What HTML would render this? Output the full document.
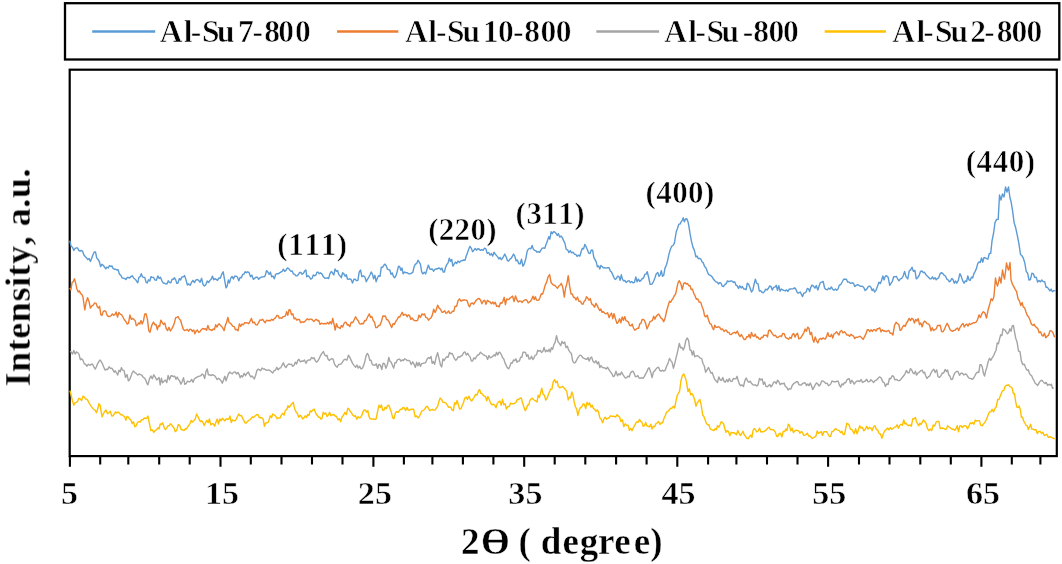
<!DOCTYPE html>
<html><head><meta charset="utf-8"><style>
html,body{margin:0;padding:0;background:#fff;}
body{width:1062px;height:564px;overflow:hidden;}
svg{display:block;}
</style></head><body>
<svg width="1062" height="564" viewBox="0 0 1062 564">
<rect x="0" y="0" width="1062" height="564" fill="#fff"/>
<rect x="65" y="3.2" width="994.3" height="56.3" fill="none" stroke="#000" stroke-width="2.3"/>
<rect x="69.7" y="69.7" width="987.1" height="386.4" fill="none" stroke="#000" stroke-width="2.2"/>
<path d="M69.9,456 L69.9,466.8 M100.2,456 L100.2,464.6 M128.3,456 L128.3,464.6 M159.2,456 L159.2,464.6 M189.7,456 L189.7,464.6 M220.5,456 L220.5,466.8 M250.8,456 L250.8,464.6 M281.5,456 L281.5,464.6 M312.0,456 L312.0,464.6 M342.5,456 L342.5,464.6 M373.4,456 L373.4,466.8 M403.9,456 L403.9,464.6 M432.4,456 L432.4,464.6 M462.9,456 L462.9,464.6 M493.4,456 L493.4,464.6 M524.2,456 L524.2,466.8 M554.7,456 L554.7,464.6 M585.3,456 L585.3,464.6 M616.1,456 L616.1,464.6 M646.6,456 L646.6,464.6 M677.3,456 L677.3,466.8 M708.1,456 L708.1,464.6 M736.4,456 L736.4,464.6 M767.0,456 L767.0,464.6 M797.5,456 L797.5,464.6 M828.1,456 L828.1,466.8 M859.0,456 L859.0,464.6 M889.5,456 L889.5,464.6 M920.3,456 L920.3,464.6 M950.8,456 L950.8,464.6 M981.4,456 L981.4,466.8 M1011.8,456 L1011.8,464.6 M1040.4,456 L1040.4,464.6" stroke="#000" stroke-width="2.1" fill="none"/>
<defs><filter id="bl" x="-5%" y="-5%" width="110%" height="110%"><feGaussianBlur stdDeviation="0.55"/></filter></defs>
<g filter="url(#bl)">
<path d="M69.7,240.7 L71.1,246.2 L72.5,247.3 L73.8,250.4 L75.0,248.6 L76.2,247.9 L77.5,247.9 L78.8,250.4 L80.0,251.0 L81.3,250.5 L82.5,251.1 L83.8,254.8 L85.1,256.5 L86.4,257.7 L87.8,259.7 L89.1,258.5 L90.4,261.4 L91.7,258.3 L92.9,255.0 L94.2,252.0 L95.5,251.9 L96.7,257.9 L98.0,259.5 L99.3,261.5 L100.6,266.6 L101.9,264.3 L103.2,265.3 L104.5,267.0 L105.8,268.9 L107.0,267.0 L108.2,268.0 L109.5,265.7 L110.8,266.5 L112.0,266.0 L113.2,268.7 L114.4,269.2 L115.6,269.2 L116.8,270.0 L118.1,269.8 L119.4,274.1 L120.8,275.2 L122.1,277.9 L123.4,278.4 L124.7,278.5 L125.9,279.6 L127.2,277.4 L128.4,277.5 L129.7,278.0 L130.9,276.5 L132.3,275.8 L133.8,278.2 L135.2,279.2 L136.6,281.2 L137.8,282.7 L138.9,277.3 L140.1,276.7 L141.3,273.7 L142.5,276.9 L143.7,277.4 L144.8,277.4 L146.0,282.1 L147.2,283.0 L148.5,279.8 L149.8,281.0 L151.0,276.7 L152.2,277.4 L153.5,277.4 L154.9,279.8 L156.3,280.3 L157.8,275.9 L159.2,278.4 L160.5,277.3 L161.8,280.6 L163.2,283.0 L164.5,283.2 L165.8,284.0 L167.1,283.7 L168.3,280.8 L169.6,282.6 L170.8,282.8 L172.1,279.3 L173.3,279.3 L174.5,277.8 L175.7,279.9 L176.8,283.4 L178.0,283.0 L179.3,278.6 L180.6,279.9 L182.0,276.9 L183.3,276.9 L184.6,275.6 L186.0,279.9 L187.4,285.0 L188.8,283.9 L190.2,285.2 L191.6,282.2 L193.0,280.3 L194.4,282.6 L195.8,280.1 L197.3,279.5 L198.7,280.3 L200.1,282.3 L201.6,278.3 L203.0,284.4 L204.4,285.9 L205.8,284.8 L207.2,281.0 L208.6,282.5 L210.0,280.3 L211.2,279.3 L212.5,276.1 L213.8,279.9 L215.0,278.6 L216.2,279.4 L217.5,280.3 L218.9,277.9 L220.3,278.2 L221.8,274.1 L223.2,271.8 L224.6,279.8 L226.0,287.8 L227.2,286.1 L228.3,280.0 L229.5,282.9 L230.7,278.4 L232.0,276.4 L233.4,278.9 L234.7,276.1 L236.1,276.2 L237.4,277.0 L238.8,280.8 L240.1,277.4 L241.4,277.7 L242.6,274.5 L243.9,274.1 L245.2,271.7 L246.4,272.7 L247.7,271.8 L249.1,272.7 L250.5,276.8 L251.9,275.1 L253.3,279.3 L254.6,278.4 L256.0,277.3 L257.3,277.2 L258.7,279.3 L260.0,277.8 L261.3,277.0 L262.6,276.9 L263.9,276.9 L265.2,275.9 L266.5,270.6 L267.8,272.0 L269.1,274.5 L270.4,272.2 L271.7,276.8 L273.0,276.0 L274.3,278.8 L275.6,274.5 L276.9,273.6 L278.2,273.8 L279.5,272.9 L280.8,272.1 L282.1,271.3 L283.4,269.2 L284.7,271.5 L286.0,270.3 L287.3,268.0 L288.5,268.4 L289.8,270.0 L291.0,271.4 L292.2,271.0 L293.4,274.0 L294.6,274.1 L295.9,275.9 L297.1,275.9 L298.4,274.6 L299.6,272.4 L300.9,272.5 L302.1,274.3 L303.4,273.3 L304.6,271.1 L305.9,270.0 L306.8,276.8 L308.1,275.7 L309.4,277.0 L310.7,279.2 L312.0,278.5 L313.3,274.9 L314.6,275.9 L315.8,275.2 L317.0,272.2 L318.1,272.2 L319.3,273.8 L320.5,272.9 L321.9,273.9 L323.2,276.5 L324.6,278.0 L325.9,278.2 L327.3,277.8 L328.6,278.6 L329.9,273.9 L331.2,271.5 L332.5,272.8 L333.8,275.0 L335.1,269.0 L336.3,271.3 L337.6,270.5 L338.8,274.6 L340.0,275.9 L341.3,277.7 L342.6,272.8 L343.9,273.9 L345.1,276.2 L346.3,274.8 L347.4,279.0 L348.6,279.2 L349.8,278.8 L351.2,279.7 L352.5,283.0 L353.9,279.2 L355.2,279.2 L356.6,280.7 L357.9,280.3 L359.2,272.1 L360.5,270.0 L361.9,276.7 L363.4,275.8 L364.9,277.0 L366.3,281.7 L367.5,279.3 L368.8,277.1 L370.0,274.8 L371.2,272.0 L372.4,274.1 L373.6,278.7 L374.9,275.3 L376.1,281.7 L377.4,278.0 L378.7,275.7 L380.0,276.5 L381.3,267.2 L382.6,267.3 L383.9,265.1 L385.1,264.1 L386.3,265.9 L387.4,269.1 L388.6,269.7 L389.8,270.0 L391.0,274.4 L392.2,272.9 L393.4,276.3 L394.6,277.8 L395.9,275.9 L397.2,271.5 L398.5,266.1 L399.7,266.7 L400.9,270.4 L402.0,268.1 L403.2,273.9 L404.4,272.0 L405.8,272.7 L407.3,272.8 L408.8,273.9 L410.2,273.9 L411.5,273.1 L412.8,272.3 L414.1,266.8 L415.4,264.1 L416.7,263.5 L418.0,260.2 L419.2,262.1 L420.4,264.2 L421.7,271.9 L422.9,273.9 L424.3,272.3 L425.7,273.9 L427.0,269.2 L428.4,265.1 L429.8,269.0 L431.0,269.3 L432.3,269.0 L433.5,271.3 L434.8,269.3 L436.0,268.8 L437.3,269.1 L438.5,268.0 L439.7,268.2 L440.9,269.7 L442.0,268.1 L443.2,272.1 L444.4,272.0 L445.6,267.2 L446.9,264.4 L448.1,262.9 L449.3,258.3 L450.5,261.3 L451.7,259.5 L452.9,266.1 L454.1,264.1 L455.4,262.1 L456.7,263.5 L458.0,261.0 L459.4,262.4 L460.9,260.9 L462.4,260.5 L463.8,260.0 L465.0,260.4 L466.2,256.2 L467.5,252.7 L468.7,249.3 L470.0,246.3 L471.3,248.3 L472.6,251.7 L473.9,250.2 L475.2,248.4 L476.5,250.2 L477.8,248.8 L479.1,249.0 L480.4,250.4 L481.7,249.6 L483.0,250.3 L484.3,248.3 L485.8,248.6 L487.2,253.4 L488.7,252.5 L490.1,255.1 L491.4,253.6 L492.7,256.1 L494.0,252.2 L495.2,254.0 L496.4,255.4 L497.7,256.9 L498.9,259.0 L500.1,257.4 L501.3,259.7 L502.4,258.4 L503.6,256.3 L504.8,254.1 L506.1,256.7 L507.4,260.5 L508.7,261.0 L509.9,259.1 L511.1,258.3 L512.3,256.5 L513.5,254.1 L514.8,256.2 L516.1,260.8 L517.4,260.0 L518.8,263.8 L520.2,263.8 L521.5,259.1 L522.9,266.2 L524.3,263.9 L525.8,258.7 L527.2,251.2 L528.4,249.0 L529.7,248.3 L530.9,248.8 L532.1,245.4 L533.3,249.1 L534.5,250.3 L535.8,250.7 L537.0,252.2 L538.3,251.6 L539.6,252.3 L540.9,250.1 L542.2,248.1 L543.5,247.9 L544.8,248.3 L546.1,244.2 L547.4,241.1 L548.7,236.6 L549.9,239.2 L551.1,231.8 L552.3,233.7 L553.5,231.7 L554.7,232.0 L556.0,233.2 L557.2,235.5 L558.4,233.7 L559.7,237.1 L561.0,236.0 L562.3,237.6 L563.6,240.6 L564.9,243.1 L566.2,249.3 L567.6,249.8 L568.9,252.6 L570.3,250.6 L571.6,252.8 L573.0,252.2 L574.4,254.2 L575.8,254.4 L577.1,256.4 L578.5,255.1 L579.9,256.1 L581.1,251.8 L582.3,248.3 L583.6,248.9 L584.8,244.4 L586.1,246.7 L587.4,249.7 L588.7,253.2 L590.0,253.6 L591.3,249.9 L592.6,250.2 L593.8,257.4 L595.0,259.6 L596.2,261.8 L597.4,266.8 L598.6,265.9 L599.8,269.0 L600.9,265.4 L602.1,266.5 L603.3,267.8 L604.8,267.8 L606.2,268.1 L607.6,267.8 L609.1,267.8 L610.3,270.9 L611.5,272.1 L612.8,274.9 L614.0,277.6 L615.2,279.5 L616.5,278.2 L617.7,276.1 L618.9,276.6 L620.1,280.3 L621.3,274.8 L622.4,279.1 L623.6,280.9 L624.8,280.5 L626.2,282.4 L627.6,281.2 L629.0,280.7 L630.3,282.6 L631.7,281.5 L633.1,282.9 L634.5,282.4 L635.8,276.9 L637.1,281.7 L638.4,279.1 L639.7,281.4 L641.0,280.4 L642.3,278.5 L643.5,278.0 L644.8,274.4 L646.0,274.1 L647.2,271.7 L648.7,277.5 L650.1,284.4 L652.0,284.1 L653.5,281.5 L654.9,278.0 L656.3,273.8 L657.8,272.4 L659.0,276.4 L660.2,274.8 L661.3,270.7 L662.5,276.3 L663.7,275.4 L665.0,268.1 L666.3,265.2 L667.6,260.7 L669.0,253.9 L670.5,249.0 L671.8,246.2 L673.1,245.5 L674.4,243.2 L676.3,231.5 L677.5,228.5 L678.8,224.1 L680.0,224.1 L681.2,221.7 L682.2,220.4 L683.2,217.8 L684.4,221.8 L685.6,219.0 L686.8,218.7 L688.0,221.7 L689.0,226.9 L690.0,233.4 L691.5,241.4 L692.9,247.1 L694.4,250.4 L695.9,256.8 L697.1,256.1 L698.3,258.7 L699.5,258.3 L700.7,258.8 L702.0,261.8 L703.3,262.9 L704.6,266.6 L705.9,267.8 L707.2,271.2 L708.5,274.4 L709.8,275.1 L711.1,275.8 L712.4,277.3 L713.6,279.3 L714.8,280.7 L716.1,281.9 L717.3,282.2 L718.5,284.0 L719.8,282.6 L721.0,283.2 L722.2,286.1 L723.5,286.6 L724.8,284.5 L726.1,283.9 L727.4,280.9 L728.7,281.7 L730.0,281.2 L731.2,280.9 L732.4,281.3 L733.5,282.5 L734.7,281.8 L735.9,285.1 L737.2,285.9 L738.5,288.4 L739.8,285.8 L741.1,287.9 L742.4,286.5 L743.7,289.0 L744.9,288.9 L746.1,289.7 L747.3,283.2 L748.5,284.1 L750.0,287.7 L751.5,292.0 L752.8,290.2 L754.1,284.2 L755.4,279.3 L756.7,283.4 L758.0,283.6 L759.3,291.0 L760.6,290.6 L761.9,292.2 L763.2,292.9 L764.5,291.4 L765.8,289.2 L767.1,290.0 L768.4,288.3 L769.7,285.9 L771.0,286.7 L772.3,290.0 L773.6,287.4 L774.9,287.1 L776.2,285.3 L777.5,290.3 L778.8,285.7 L780.1,291.2 L781.4,289.0 L782.7,290.0 L784.0,290.4 L785.3,290.8 L786.6,289.9 L787.9,291.5 L789.2,289.2 L790.5,289.0 L791.9,288.9 L793.3,288.7 L794.7,287.8 L796.0,289.5 L797.4,292.8 L798.8,293.0 L800.2,292.0 L801.4,294.4 L802.6,296.6 L803.7,293.2 L804.9,292.9 L806.1,292.0 L807.3,288.4 L808.5,288.8 L809.6,291.6 L810.8,287.4 L812.0,285.1 L813.5,286.1 L814.9,288.1 L816.3,285.6 L817.8,290.0 L819.1,286.0 L820.4,282.6 L821.7,282.2 L823.2,281.5 L824.6,288.0 L826.0,289.4 L827.3,289.9 L828.6,288.1 L830.0,289.1 L831.4,286.9 L832.7,289.5 L834.0,290.2 L835.4,289.0 L836.7,290.3 L838.0,289.1 L839.3,285.1 L840.8,284.5 L842.2,282.0 L843.6,279.3 L845.1,279.3 L846.4,279.2 L847.7,282.1 L849.0,282.0 L850.5,283.4 L852.0,282.8 L853.5,283.2 L854.8,286.6 L856.0,285.4 L857.2,284.8 L858.5,285.0 L859.8,286.0 L861.0,286.4 L862.4,286.2 L863.8,287.5 L865.2,290.6 L866.8,289.1 L868.4,286.4 L869.6,286.1 L870.9,287.3 L872.1,290.6 L873.4,288.9 L874.6,292.1 L875.9,290.6 L877.5,286.3 L879.0,282.1 L880.2,283.6 L881.5,280.8 L882.8,275.9 L884.0,279.9 L885.2,276.4 L886.5,275.7 L888.1,277.2 L889.7,285.3 L891.0,283.4 L892.4,281.3 L893.7,276.7 L895.0,276.8 L896.3,276.3 L897.6,278.8 L899.0,280.8 L900.3,278.9 L901.7,278.4 L903.2,276.0 L904.6,271.5 L906.2,277.1 L907.8,278.9 L909.2,270.8 L910.6,269.9 L912.0,267.2 L913.4,271.4 L914.9,270.4 L916.3,278.9 L917.7,277.7 L919.1,275.5 L920.5,271.5 L921.9,271.0 L923.2,272.5 L924.5,272.3 L925.9,274.7 L927.3,276.1 L928.7,277.4 L930.1,278.9 L931.3,278.7 L932.5,276.9 L933.7,279.1 L935.0,277.7 L936.2,279.8 L937.4,278.6 L938.6,277.9 L940.0,273.9 L941.5,272.6 L942.9,273.6 L944.2,275.3 L945.5,276.0 L946.9,279.2 L948.2,280.0 L949.4,281.8 L950.6,280.9 L951.8,278.5 L953.1,279.8 L954.3,283.3 L955.5,281.0 L956.7,283.2 L958.3,280.3 L959.9,273.6 L961.3,276.6 L962.7,280.9 L964.1,283.2 L965.3,280.9 L966.6,281.5 L967.8,275.9 L969.0,279.8 L970.2,280.4 L971.5,277.1 L972.7,277.9 L974.0,273.3 L975.2,271.4 L976.5,268.4 L977.7,263.7 L979.0,261.9 L980.2,262.5 L981.5,258.0 L982.8,262.2 L984.0,257.4 L985.2,257.8 L986.5,258.7 L987.9,259.2 L989.3,253.5 L990.7,253.4 L992.1,240.3 L993.6,233.0 L995.0,222.6 L996.6,219.4 L998.2,219.4 L999.5,195.0 L1001.0,200.0 L1002.5,194.0 L1004.0,197.0 L1005.5,187.0 L1007.0,192.0 L1008.5,187.0 L1010.0,198.0 L1011.0,201.3 L1012.5,210.1 L1014.1,222.6 L1015.7,227.8 L1017.3,235.3 L1018.9,243.6 L1020.5,254.5 L1021.9,255.7 L1023.4,258.4 L1024.8,263.0 L1026.2,271.4 L1027.6,273.2 L1029.0,280.0 L1030.4,279.5 L1031.9,273.3 L1033.3,273.6 L1034.7,277.4 L1036.2,277.1 L1037.6,282.1 L1039.0,280.6 L1040.4,281.8 L1041.8,280.0 L1043.2,281.6 L1044.7,281.6 L1046.1,287.4 L1047.4,287.3 L1048.6,288.9 L1049.9,291.0 L1051.1,289.1 L1052.4,291.7 L1054.0,290.6 L1055.6,290.6" stroke="#5B9BD5" stroke-width="1.4" fill="none" stroke-linejoin="round"/>
<path d="M69.7,288.2 L70.9,289.8 L72.1,282.4 L73.2,281.8 L74.4,278.8 L75.7,283.4 L76.9,289.0 L78.2,292.0 L79.4,290.8 L80.6,293.6 L81.7,294.2 L82.9,296.7 L84.8,309.9 L86.2,302.0 L87.6,297.7 L89.0,301.4 L90.4,308.0 L91.8,306.0 L93.2,305.2 L94.7,302.9 L96.1,303.3 L97.3,306.8 L98.4,308.0 L99.6,306.3 L100.8,314.6 L102.0,315.4 L103.3,311.4 L104.5,310.8 L105.8,311.4 L107.0,315.1 L108.3,316.5 L109.6,316.5 L110.9,315.8 L112.3,313.9 L113.6,315.3 L114.9,314.6 L116.2,312.0 L117.5,317.1 L118.9,312.4 L120.2,314.2 L121.5,314.6 L122.9,317.0 L124.3,319.7 L125.7,321.2 L127.1,324.0 L128.5,323.4 L129.9,315.0 L131.4,319.4 L132.8,318.4 L134.0,319.6 L135.2,320.7 L136.3,325.7 L137.5,325.0 L138.7,322.9 L139.8,324.1 L141.0,320.6 L142.2,324.0 L143.5,320.8 L144.7,314.1 L146.0,313.7 L147.4,319.2 L148.8,330.6 L150.0,332.3 L151.2,327.3 L152.3,324.0 L153.5,322.1 L154.8,324.7 L156.0,324.5 L157.3,329.7 L158.5,325.8 L159.7,326.4 L160.8,320.1 L162.0,322.1 L163.4,324.5 L164.8,323.1 L166.2,328.5 L167.6,330.6 L169.0,327.3 L170.4,331.0 L171.9,328.6 L173.3,325.9 L174.5,322.4 L175.7,317.7 L176.8,317.3 L178.0,316.5 L179.3,319.0 L180.6,320.2 L182.0,325.2 L183.3,329.3 L184.6,330.6 L185.9,330.1 L187.2,329.3 L188.6,331.2 L189.9,329.1 L191.2,329.7 L192.4,331.4 L193.7,329.9 L194.9,333.7 L196.2,330.9 L197.4,330.0 L198.7,332.5 L200.0,331.7 L201.3,329.7 L202.7,328.4 L204.0,329.0 L205.3,328.7 L206.6,330.2 L207.9,325.5 L209.3,329.5 L210.6,329.7 L211.9,330.6 L213.2,329.0 L214.4,329.6 L215.7,324.8 L216.9,327.1 L218.2,324.5 L219.4,324.0 L220.6,325.6 L221.8,326.7 L222.9,328.2 L224.1,330.6 L225.4,325.1 L226.6,322.3 L227.9,317.4 L229.2,322.9 L230.4,323.1 L231.7,324.8 L232.9,326.4 L234.2,326.6 L235.4,329.7 L236.7,329.4 L238.0,330.8 L239.4,323.9 L240.7,326.4 L242.0,324.0 L243.3,324.8 L244.7,322.7 L246.0,322.8 L247.4,323.0 L248.7,323.7 L250.1,321.3 L251.4,318.4 L252.8,322.8 L254.2,322.1 L255.7,324.6 L257.1,325.0 L258.6,322.6 L260.0,319.8 L261.3,320.3 L262.6,319.2 L263.9,321.3 L265.2,322.8 L266.5,320.2 L267.8,320.7 L269.1,320.5 L270.4,320.7 L271.7,319.2 L273.0,320.3 L274.3,318.6 L275.6,317.8 L276.8,315.5 L278.1,315.5 L279.3,318.3 L280.5,317.9 L281.7,318.4 L282.9,316.7 L284.2,316.4 L285.4,315.9 L286.6,311.6 L287.8,315.3 L289.0,309.8 L290.2,310.0 L291.5,314.7 L292.8,313.8 L294.1,318.8 L295.4,318.1 L296.7,320.0 L298.1,319.5 L299.4,319.5 L300.7,322.7 L302.0,321.7 L303.4,322.4 L304.7,321.6 L306.1,319.9 L307.4,318.7 L308.8,319.8 L310.1,319.1 L311.3,319.1 L312.6,320.1 L313.8,321.6 L315.1,320.1 L316.3,319.2 L317.6,320.7 L318.8,320.4 L320.0,324.4 L321.2,323.2 L322.4,323.7 L323.7,323.7 L325.0,323.5 L326.3,323.7 L327.6,322.6 L328.9,324.0 L330.2,321.7 L331.5,323.9 L332.7,318.5 L334.0,324.0 L335.2,330.1 L336.5,323.7 L337.7,327.0 L339.0,327.6 L340.2,328.5 L341.4,325.6 L342.7,326.9 L343.9,323.7 L345.1,322.1 L346.3,322.7 L347.4,325.1 L348.6,324.8 L349.8,326.6 L351.2,322.3 L352.7,322.7 L354.2,319.7 L355.6,316.8 L356.9,319.1 L358.2,320.7 L359.5,323.7 L360.8,324.1 L362.1,323.5 L363.4,323.7 L364.6,320.5 L365.8,320.7 L366.9,318.5 L368.1,316.0 L369.3,313.9 L370.6,317.4 L371.9,316.6 L373.2,320.5 L374.5,322.1 L375.8,327.6 L377.1,327.6 L378.6,325.5 L380.0,325.3 L381.4,321.5 L382.9,315.9 L384.1,316.2 L385.4,316.0 L386.6,319.6 L387.8,319.8 L389.1,321.9 L390.4,324.7 L391.7,327.6 L393.1,323.6 L394.4,324.3 L395.8,321.4 L397.1,319.6 L398.5,316.8 L399.7,317.1 L400.9,314.8 L402.2,312.3 L403.4,315.4 L404.6,314.5 L405.9,314.5 L407.1,316.8 L408.3,314.9 L409.6,315.7 L410.9,319.4 L412.2,318.1 L413.5,319.9 L414.8,320.6 L416.1,320.7 L417.6,320.4 L419.0,315.2 L420.4,317.5 L421.9,313.9 L423.2,314.9 L424.5,313.9 L425.9,317.4 L427.2,317.8 L428.5,320.2 L429.8,318.8 L431.1,317.8 L432.4,314.9 L433.7,309.2 L435.0,312.5 L436.3,309.9 L437.6,305.1 L439.1,308.1 L440.5,309.3 L441.9,312.3 L443.4,312.0 L444.7,310.7 L446.0,313.5 L447.3,312.5 L448.6,310.9 L449.9,313.4 L451.2,312.9 L452.5,311.2 L453.8,311.3 L455.1,306.1 L456.6,306.4 L458.0,300.8 L459.4,298.9 L460.9,301.0 L462.2,300.5 L463.5,300.0 L464.8,300.0 L466.0,300.1 L467.2,300.9 L468.4,304.8 L469.6,306.8 L471.0,303.5 L472.4,302.9 L473.7,304.2 L475.1,301.8 L476.5,300.0 L477.9,298.9 L479.2,298.5 L480.6,300.3 L481.9,303.7 L483.3,301.0 L484.7,300.3 L486.0,304.3 L487.4,300.3 L488.7,301.4 L490.1,302.0 L491.4,303.8 L492.7,302.0 L494.0,304.0 L495.3,302.3 L496.6,306.4 L497.9,305.9 L499.2,306.9 L500.4,302.8 L501.7,303.3 L502.9,301.3 L504.2,297.3 L505.4,304.7 L506.7,299.0 L507.9,299.5 L509.1,299.2 L510.2,297.9 L511.4,297.0 L512.6,296.1 L514.0,301.6 L515.5,295.9 L517.0,300.0 L518.4,302.0 L519.6,301.0 L520.8,301.1 L522.1,302.4 L523.3,301.0 L524.5,300.2 L525.8,299.7 L527.0,300.5 L528.2,302.9 L529.4,302.0 L530.6,301.1 L531.8,299.2 L533.0,296.1 L534.2,299.6 L535.4,296.8 L536.5,300.1 L537.7,300.4 L538.9,300.0 L540.1,297.3 L541.3,293.8 L542.6,294.1 L543.8,290.2 L545.2,285.1 L546.7,281.9 L548.1,276.8 L549.6,274.6 L551.1,282.5 L552.6,284.4 L553.8,285.3 L555.0,285.5 L556.2,286.9 L557.4,288.3 L558.7,286.3 L560.0,285.2 L561.3,283.4 L562.8,287.3 L564.3,297.1 L565.6,288.0 L566.9,283.6 L568.2,275.6 L569.7,286.7 L571.1,294.1 L572.3,293.9 L573.5,297.2 L574.8,297.5 L576.0,300.0 L577.5,297.1 L578.9,301.4 L580.3,301.1 L581.8,303.9 L583.0,304.2 L584.2,301.2 L585.3,300.3 L586.5,296.7 L587.7,298.0 L589.0,300.2 L590.3,298.6 L591.6,303.9 L593.0,304.8 L594.5,307.2 L596.0,303.3 L597.4,305.9 L598.6,308.5 L599.8,310.6 L600.9,309.0 L602.1,312.4 L603.3,311.7 L604.8,313.3 L606.2,313.8 L607.6,312.7 L609.1,317.6 L610.3,314.8 L611.5,313.1 L612.8,318.7 L614.0,313.7 L615.5,319.0 L617.0,323.4 L618.3,322.0 L619.6,318.8 L620.9,322.9 L622.2,316.9 L623.5,320.3 L624.8,316.6 L626.0,320.6 L627.2,321.1 L628.4,322.1 L629.6,325.4 L630.9,325.8 L632.2,324.1 L633.5,328.0 L634.8,330.2 L636.1,329.3 L637.4,328.3 L638.6,328.3 L639.8,323.6 L640.9,323.5 L642.1,319.5 L643.3,319.5 L644.5,320.4 L645.8,324.1 L647.0,328.9 L648.2,326.3 L650.0,321.7 L651.2,321.1 L652.5,320.3 L653.7,316.3 L654.9,319.1 L656.1,316.5 L657.3,315.0 L658.6,314.1 L659.8,315.9 L661.1,318.1 L662.4,319.1 L663.7,321.7 L665.2,317.7 L666.6,311.0 L668.0,306.3 L669.5,301.2 L670.7,302.2 L672.0,299.7 L673.2,298.2 L674.4,295.4 L675.6,294.2 L676.8,288.4 L678.1,282.7 L679.3,280.7 L680.8,283.7 L682.2,289.5 L683.7,283.4 L685.1,282.7 L686.3,284.0 L687.5,283.5 L688.8,285.7 L690.0,285.6 L691.2,289.5 L692.5,289.1 L693.7,293.3 L694.9,295.4 L696.4,299.3 L697.8,298.9 L699.2,302.1 L700.7,302.2 L702.0,306.4 L703.3,309.7 L704.6,315.9 L705.9,316.8 L707.2,315.3 L708.5,319.8 L709.8,323.6 L711.1,324.1 L712.4,327.6 L713.6,329.7 L714.8,325.1 L715.9,327.2 L717.1,327.4 L718.3,326.6 L719.8,327.5 L721.2,329.7 L722.6,329.0 L724.1,331.5 L725.3,330.2 L726.5,330.3 L727.6,332.3 L728.8,332.4 L730.0,334.4 L731.2,334.6 L732.4,333.4 L733.5,332.7 L734.7,332.3 L735.9,333.4 L737.3,331.0 L738.7,334.5 L740.1,336.6 L741.4,334.5 L742.8,337.2 L744.2,339.6 L745.6,339.3 L746.8,336.7 L748.0,336.9 L749.1,334.4 L750.3,338.0 L751.5,332.4 L752.7,335.8 L754.0,336.4 L755.2,334.2 L756.5,337.5 L757.7,337.0 L759.0,338.9 L760.2,339.3 L761.4,337.3 L762.7,337.6 L763.9,335.1 L765.1,335.4 L766.3,335.1 L767.5,336.9 L768.6,330.7 L769.8,330.0 L771.0,331.5 L772.5,333.8 L773.9,335.8 L775.3,335.2 L776.8,337.3 L778.0,337.5 L779.2,336.5 L780.3,335.9 L781.5,336.6 L782.7,333.4 L784.2,333.8 L785.6,337.5 L787.0,338.2 L788.5,339.3 L789.8,337.3 L791.1,338.5 L792.4,334.6 L793.7,333.5 L795.0,337.1 L796.3,334.4 L797.5,333.2 L798.8,338.8 L800.0,338.4 L801.2,337.3 L802.5,334.9 L803.8,332.8 L805.1,329.0 L806.4,331.3 L807.7,327.1 L809.0,328.5 L810.2,334.6 L811.5,332.4 L812.7,338.9 L813.9,342.2 L815.2,337.0 L816.5,340.6 L817.8,343.0 L819.1,339.5 L820.4,338.4 L821.7,339.3 L822.9,337.9 L824.2,338.7 L825.4,339.0 L826.6,336.4 L827.8,332.7 L829.0,336.2 L830.3,336.7 L831.5,334.4 L832.7,338.0 L834.0,333.9 L835.2,333.4 L836.5,331.8 L837.7,333.6 L839.0,335.0 L840.2,331.5 L841.6,330.5 L842.9,333.0 L844.3,331.8 L845.6,333.1 L847.0,335.0 L848.3,334.9 L849.6,336.3 L850.9,334.3 L852.2,335.4 L853.5,336.2 L854.8,338.6 L856.1,337.1 L857.3,337.4 L858.6,336.9 L859.9,336.2 L861.5,337.5 L863.1,339.4 L864.5,336.9 L865.9,333.9 L867.3,329.8 L868.5,329.8 L869.8,331.6 L871.0,329.8 L872.3,331.4 L873.5,329.8 L874.8,329.8 L876.0,331.1 L877.3,328.6 L878.5,328.8 L879.7,327.8 L881.0,331.9 L882.2,329.8 L883.6,331.0 L884.9,330.7 L886.2,331.7 L887.6,330.9 L888.9,330.5 L890.2,333.2 L891.6,333.2 L892.9,335.1 L894.5,325.4 L896.1,322.3 L897.4,323.7 L898.8,324.5 L900.1,330.4 L901.4,329.8 L902.7,326.8 L904.0,325.3 L905.2,326.4 L906.5,323.0 L907.8,321.3 L909.1,318.4 L910.5,320.6 L911.8,318.3 L913.1,319.1 L914.4,323.1 L915.7,319.4 L916.9,321.0 L918.2,318.6 L919.5,324.5 L920.8,322.9 L922.1,326.9 L923.3,323.0 L924.6,321.1 L925.9,322.3 L927.2,323.9 L928.4,323.9 L929.7,325.5 L930.9,330.9 L932.2,327.7 L933.6,330.6 L934.9,329.4 L936.2,328.9 L937.6,325.5 L938.9,325.5 L940.2,325.3 L941.6,331.6 L942.9,331.9 L944.3,329.7 L945.7,326.3 L947.1,323.4 L948.5,325.7 L950.0,329.6 L951.4,330.9 L952.6,331.4 L953.8,330.4 L955.0,330.4 L956.3,328.7 L957.5,328.0 L958.7,330.6 L959.9,327.7 L961.5,325.1 L963.1,323.4 L964.3,327.0 L965.6,324.9 L966.8,324.1 L968.0,326.1 L969.3,323.5 L970.5,324.5 L971.9,323.6 L973.2,322.8 L974.5,322.8 L975.9,322.3 L977.5,319.8 L979.0,314.9 L980.4,317.5 L981.9,313.7 L983.3,311.7 L984.9,313.0 L986.5,318.1 L988.1,309.8 L989.7,304.3 L991.1,298.6 L992.5,300.6 L993.9,296.8 L995.5,278.0 L996.5,283.5 L997.5,286.0 L998.5,282.1 L999.5,277.0 L1001.0,283.0 L1002.5,270.0 L1003.5,275.1 L1004.5,279.0 L1005.5,271.9 L1006.5,263.0 L1007.5,267.2 L1008.5,270.0 L1010.0,262.5 L1011.0,279.8 L1012.4,284.1 L1013.8,286.6 L1015.2,289.4 L1016.6,291.6 L1018.1,298.8 L1019.5,301.1 L1020.8,305.5 L1022.1,302.5 L1023.3,307.1 L1024.6,307.6 L1025.9,311.7 L1027.3,315.4 L1028.7,316.9 L1030.1,320.2 L1031.4,324.3 L1032.8,325.3 L1034.1,324.2 L1035.4,326.6 L1036.7,327.5 L1038.0,329.0 L1039.2,332.7 L1040.5,331.8 L1041.8,335.1 L1043.1,336.1 L1044.4,333.2 L1045.8,337.7 L1047.1,336.2 L1048.5,335.3 L1050.0,330.6 L1051.4,330.9 L1053.0,332.7 L1054.6,337.2" stroke="#ED7D31" stroke-width="1.4" fill="none" stroke-linejoin="round"/>
<path d="M69.9,351.6 L71.2,351.9 L72.5,354.1 L73.8,350.5 L75.1,354.0 L76.4,352.0 L77.7,352.6 L79.0,354.1 L80.3,359.7 L81.6,358.7 L82.9,360.3 L84.2,363.6 L85.5,364.3 L87.0,366.2 L88.4,364.2 L89.8,365.3 L91.3,364.3 L92.6,364.2 L93.9,366.9 L95.2,369.1 L96.4,366.8 L97.6,363.7 L98.7,361.9 L99.9,360.1 L101.1,361.3 L102.4,363.8 L103.7,366.9 L105.0,370.1 L106.4,369.2 L107.7,369.5 L109.1,366.7 L110.4,368.4 L111.8,368.2 L113.0,370.0 L114.2,372.2 L115.3,370.8 L116.5,373.0 L117.7,375.0 L118.9,370.3 L120.2,371.7 L121.4,367.6 L122.6,370.1 L124.0,370.4 L125.5,377.4 L127.0,374.5 L128.4,380.9 L129.6,379.8 L130.9,376.6 L132.1,373.0 L133.3,371.1 L134.8,372.6 L136.2,373.4 L137.7,375.1 L139.1,374.0 L140.4,374.6 L141.7,375.0 L143.0,377.0 L144.2,377.9 L145.4,379.2 L146.7,382.8 L147.9,384.8 L149.4,379.1 L150.9,376.0 L152.3,378.8 L153.8,374.8 L155.2,377.1 L156.7,379.9 L157.9,378.9 L159.1,377.5 L160.2,384.9 L161.4,378.1 L162.6,382.8 L164.0,381.3 L165.4,380.0 L166.8,382.7 L168.1,375.5 L169.5,379.8 L170.9,375.7 L172.3,376.0 L173.5,376.5 L174.8,376.3 L176.0,379.3 L177.2,377.0 L178.4,379.5 L179.7,381.0 L180.9,384.2 L182.1,381.8 L183.5,377.7 L184.8,384.4 L186.2,383.4 L187.5,381.0 L188.9,381.8 L190.3,381.5 L191.6,379.4 L193.0,382.3 L194.3,379.0 L195.7,377.9 L197.0,377.1 L198.3,376.5 L199.6,376.1 L200.9,375.7 L202.2,374.0 L203.5,375.0 L204.7,378.5 L205.9,371.8 L207.2,368.9 L208.4,374.8 L209.6,374.8 L210.9,375.6 L212.1,374.7 L213.3,375.0 L214.6,375.7 L215.9,377.5 L217.2,379.6 L218.5,378.2 L219.8,379.3 L221.1,380.9 L222.3,383.2 L223.6,379.8 L224.8,376.3 L226.0,380.9 L227.2,377.3 L228.4,374.0 L229.7,372.0 L230.9,373.0 L232.3,373.8 L233.8,372.1 L235.2,372.0 L236.7,374.0 L237.9,372.4 L239.1,374.3 L240.2,377.7 L241.4,375.7 L242.6,377.0 L244.1,373.3 L245.5,375.7 L246.9,373.4 L248.4,372.1 L249.6,374.9 L250.8,376.9 L251.9,375.9 L253.1,377.3 L254.3,378.9 L255.6,375.6 L256.9,370.4 L258.2,369.1 L259.5,369.9 L260.7,370.7 L262.0,368.0 L263.3,369.0 L264.6,369.0 L265.9,370.1 L267.3,370.2 L268.6,369.9 L270.0,370.5 L271.3,371.7 L272.7,373.0 L274.1,370.6 L275.4,370.3 L276.8,367.4 L278.1,369.8 L279.5,368.2 L280.8,367.8 L282.1,365.2 L283.4,362.8 L284.7,366.2 L286.0,367.6 L287.3,365.2 L288.7,364.0 L290.0,364.4 L291.4,364.2 L292.7,366.3 L294.1,365.2 L295.3,362.2 L296.6,364.0 L297.8,360.3 L299.0,359.4 L300.4,361.8 L301.8,361.0 L303.1,361.3 L304.5,360.0 L305.9,363.3 L307.3,360.7 L308.8,359.9 L310.2,360.0 L311.7,357.4 L312.9,358.6 L314.1,357.8 L315.2,360.4 L316.4,362.2 L317.6,361.3 L319.1,358.6 L320.5,355.7 L321.9,353.4 L323.4,351.6 L324.6,354.7 L325.8,356.0 L326.9,355.3 L328.1,359.3 L329.3,360.4 L330.6,359.3 L331.9,358.5 L333.2,359.4 L334.5,364.1 L335.8,366.0 L337.1,367.2 L338.6,364.5 L340.0,364.4 L341.4,363.6 L342.9,361.3 L344.3,359.4 L345.7,359.5 L347.0,360.1 L348.4,355.1 L349.8,357.4 L351.2,360.4 L352.7,363.6 L354.2,365.6 L355.6,367.2 L357.0,365.1 L358.3,368.1 L359.7,366.3 L361.0,369.0 L362.4,368.2 L363.6,365.6 L364.9,361.2 L366.1,355.9 L367.3,353.5 L368.5,355.2 L369.8,360.4 L371.0,360.1 L372.2,364.3 L373.6,365.1 L374.9,365.2 L376.3,363.8 L377.6,368.4 L379.0,364.3 L380.4,365.2 L381.8,369.5 L383.1,363.2 L384.5,363.6 L385.9,368.2 L387.4,364.5 L388.8,357.4 L390.0,361.2 L391.2,362.3 L392.5,365.4 L393.7,368.2 L394.9,362.8 L396.1,362.7 L397.3,359.8 L398.5,359.4 L399.7,359.1 L400.9,361.2 L402.2,359.9 L403.4,360.5 L404.6,358.8 L405.9,359.4 L407.1,360.5 L408.3,360.4 L409.8,360.9 L411.2,364.5 L412.7,361.8 L414.1,364.3 L415.4,367.4 L416.6,362.3 L417.9,365.7 L419.1,362.4 L420.4,366.4 L421.6,363.7 L422.9,363.3 L424.3,363.0 L425.7,362.6 L427.0,359.3 L428.4,357.6 L429.8,358.4 L431.0,356.4 L432.2,363.4 L433.4,361.6 L434.6,364.3 L436.1,357.4 L437.6,352.6 L439.1,358.8 L440.5,365.2 L441.7,366.9 L442.9,358.9 L444.2,360.5 L445.4,358.4 L446.8,356.7 L448.1,357.3 L449.5,352.4 L450.8,353.8 L452.2,353.5 L453.4,356.3 L454.6,358.9 L455.8,360.3 L457.0,359.0 L458.3,356.6 L459.6,357.2 L460.9,356.1 L462.3,355.3 L463.6,352.6 L465.0,351.9 L466.3,355.1 L467.7,353.2 L468.9,355.6 L470.1,356.9 L471.4,361.1 L472.6,361.0 L473.9,357.8 L475.2,359.0 L476.5,356.6 L477.8,355.0 L479.1,354.5 L480.4,352.2 L481.8,353.5 L483.3,354.6 L484.8,355.6 L486.2,356.1 L487.6,359.4 L488.9,355.6 L490.3,357.8 L491.6,357.1 L493.0,356.1 L494.2,354.7 L495.4,355.9 L496.5,352.3 L497.7,355.0 L498.9,352.2 L500.1,352.5 L501.4,354.8 L502.6,357.8 L503.8,359.0 L505.0,362.9 L506.2,365.4 L507.5,367.9 L508.7,368.8 L509.9,366.2 L511.1,362.8 L512.3,363.1 L513.5,360.0 L514.7,360.7 L515.9,358.8 L517.0,362.3 L518.2,361.1 L519.4,361.0 L520.6,357.2 L521.8,357.4 L523.1,352.1 L524.3,352.2 L525.5,352.4 L526.7,356.3 L527.9,354.7 L529.1,359.0 L530.3,358.8 L531.5,356.2 L532.8,359.5 L534.0,358.0 L535.2,355.1 L536.5,354.9 L537.7,350.3 L538.9,351.2 L540.2,350.4 L541.5,352.5 L542.8,351.5 L544.1,347.4 L545.4,351.9 L546.7,350.2 L547.9,351.5 L549.1,349.2 L550.2,352.1 L551.4,347.7 L552.6,349.3 L553.9,344.6 L555.2,342.1 L556.5,335.6 L558.0,341.7 L559.4,343.4 L560.7,345.6 L562.0,341.5 L563.3,343.4 L564.7,342.1 L566.0,347.6 L567.4,346.2 L568.7,350.2 L570.1,352.2 L571.4,353.6 L572.7,361.1 L574.0,362.9 L575.2,362.7 L576.4,360.7 L577.5,358.2 L578.7,356.7 L579.9,355.1 L581.4,355.6 L582.8,357.7 L584.2,358.4 L585.7,359.0 L586.9,359.4 L588.1,357.5 L589.2,361.1 L590.4,358.0 L591.6,357.1 L593.0,361.2 L594.5,362.8 L596.0,360.7 L597.4,363.9 L598.6,361.8 L599.8,367.6 L600.9,365.6 L602.1,367.2 L603.3,367.8 L604.8,367.9 L606.2,369.0 L607.6,367.3 L609.1,369.8 L610.4,371.9 L611.8,373.5 L613.1,376.6 L614.5,375.8 L616.0,371.2 L617.5,375.8 L618.9,373.7 L620.2,374.9 L621.5,372.1 L622.8,374.4 L624.1,376.4 L625.4,378.0 L626.7,377.6 L627.9,376.1 L629.2,377.0 L630.4,373.2 L631.6,371.7 L632.8,371.2 L634.0,373.0 L635.3,376.6 L636.5,376.6 L637.8,375.6 L639.1,378.0 L640.4,378.3 L641.7,377.6 L643.0,378.3 L644.3,376.6 L645.5,374.1 L646.7,372.2 L647.9,369.0 L649.1,367.8 L650.6,371.7 L652.1,377.6 L653.4,372.1 L654.6,371.0 L655.9,369.1 L657.2,367.6 L658.5,367.3 L659.8,370.3 L661.1,371.2 L662.4,370.2 L663.7,371.1 L665.2,370.3 L666.6,366.3 L668.0,363.4 L669.5,358.4 L670.8,360.6 L672.1,362.4 L673.4,368.2 L674.6,364.2 L675.8,358.8 L676.9,354.6 L678.1,349.1 L679.3,343.5 L680.6,347.8 L681.9,347.3 L683.2,350.0 L684.5,347.1 L685.8,340.5 L687.1,338.0 L688.5,340.1 L690.0,350.0 L691.2,350.5 L692.4,355.0 L693.5,350.9 L694.7,356.7 L695.9,356.2 L697.4,355.6 L698.8,356.7 L700.2,358.1 L701.7,358.6 L703.0,363.5 L704.3,366.0 L705.6,372.2 L707.0,370.0 L708.5,367.4 L709.7,370.3 L711.0,373.2 L712.2,372.6 L713.4,376.1 L714.8,379.5 L716.1,380.9 L717.5,382.5 L718.8,376.9 L720.2,379.9 L721.5,380.5 L722.8,377.4 L724.1,381.5 L725.4,382.1 L726.7,379.5 L728.0,381.8 L729.3,378.6 L730.6,381.2 L732.0,381.4 L733.3,378.5 L734.6,378.9 L735.9,378.9 L737.1,376.3 L738.3,381.1 L739.5,384.2 L740.7,385.7 L742.1,385.0 L743.5,386.5 L744.8,380.9 L746.2,378.0 L747.6,380.9 L748.9,382.3 L750.2,381.2 L751.5,383.3 L752.8,384.7 L754.1,385.2 L755.4,384.8 L756.8,386.1 L758.1,384.7 L759.5,378.4 L760.8,380.0 L762.2,378.9 L763.4,384.3 L764.7,382.1 L765.9,386.4 L767.1,386.7 L768.4,385.8 L769.7,384.4 L771.0,386.9 L772.3,385.2 L773.6,382.2 L774.9,381.8 L776.2,383.7 L777.5,380.2 L778.8,381.6 L780.1,384.7 L781.4,383.5 L782.7,383.8 L784.1,383.0 L785.4,386.5 L786.8,387.3 L788.1,389.9 L789.5,388.7 L790.9,388.9 L792.2,385.5 L793.6,383.7 L794.9,382.9 L796.3,381.8 L797.6,381.6 L798.9,384.6 L800.2,385.0 L801.5,384.8 L802.8,383.3 L804.1,382.8 L805.3,383.0 L806.5,385.6 L807.8,384.0 L809.0,385.7 L810.2,383.0 L811.5,385.8 L812.7,389.5 L813.9,387.7 L815.2,384.8 L816.5,382.9 L817.8,384.0 L819.1,386.0 L820.4,384.5 L821.7,380.9 L823.1,381.2 L824.4,382.0 L825.8,383.6 L827.1,383.2 L828.5,385.7 L829.7,385.0 L830.9,383.6 L832.0,380.9 L833.2,381.6 L834.4,381.8 L835.7,381.8 L836.9,381.2 L838.2,381.2 L839.4,385.1 L840.7,387.2 L841.9,383.9 L843.2,384.8 L844.4,382.6 L845.6,382.8 L846.8,380.1 L848.0,379.0 L849.2,378.7 L850.5,383.4 L851.7,380.3 L853.0,381.9 L854.2,384.2 L855.6,382.2 L857.0,380.9 L858.3,381.0 L859.7,381.5 L861.1,379.6 L862.5,382.5 L863.9,381.6 L865.3,381.0 L866.7,379.3 L868.1,381.9 L869.5,381.6 L870.9,379.8 L872.2,381.0 L873.6,382.6 L875.0,380.7 L876.4,380.2 L877.9,378.6 L879.3,376.9 L880.7,377.3 L881.9,379.6 L883.0,382.1 L884.2,382.6 L885.4,386.5 L886.7,383.9 L888.1,384.5 L889.4,378.5 L890.7,378.8 L892.1,375.8 L893.4,376.1 L894.9,379.9 L896.3,379.4 L897.8,380.4 L899.2,380.7 L900.7,379.6 L902.1,377.7 L903.5,376.0 L905.0,373.8 L906.4,370.4 L907.8,372.8 L909.1,372.7 L910.5,368.6 L911.9,370.3 L913.0,372.9 L914.2,373.8 L915.4,371.2 L916.5,375.0 L918.0,373.0 L919.4,372.1 L920.8,370.6 L922.3,370.3 L923.4,373.0 L924.6,372.2 L925.8,376.0 L926.9,378.4 L928.3,376.9 L929.7,376.0 L931.0,373.0 L932.4,370.6 L933.8,369.2 L935.2,372.4 L936.7,369.9 L938.1,376.9 L939.6,377.3 L941.0,375.6 L942.4,372.9 L943.7,373.1 L945.1,369.5 L946.5,371.5 L947.6,370.0 L948.8,375.0 L950.0,376.3 L951.1,379.6 L952.5,379.2 L953.9,374.9 L955.2,372.5 L956.6,371.5 L958.0,371.5 L959.5,375.3 L960.9,373.3 L962.3,373.1 L963.8,375.0 L965.2,374.0 L966.6,374.5 L967.9,376.8 L969.3,378.4 L970.7,378.4 L972.1,379.4 L973.4,378.4 L974.8,376.0 L976.1,373.4 L977.4,372.1 L978.8,372.6 L980.0,364.7 L981.1,364.6 L982.2,366.7 L983.4,373.0 L984.5,376.1 L985.7,370.9 L986.8,367.5 L988.0,362.3 L989.5,358.3 L990.9,360.3 L992.3,357.6 L993.8,355.3 L994.9,352.5 L996.1,350.2 L997.2,342.9 L998.4,343.8 L999.5,339.1 L1000.7,334.8 L1001.9,335.6 L1003.0,328.8 L1004.1,329.7 L1005.3,330.3 L1006.4,332.3 L1007.5,333.8 L1008.7,332.3 L1009.9,328.8 L1011.0,331.3 L1012.2,325.9 L1013.4,325.4 L1014.5,331.6 L1015.7,338.1 L1017.1,342.3 L1018.5,351.0 L1020.0,351.7 L1021.4,361.1 L1022.9,364.6 L1024.3,364.3 L1025.8,368.1 L1027.2,370.3 L1028.3,369.8 L1029.5,373.6 L1030.7,375.0 L1031.8,376.1 L1033.0,379.1 L1034.1,380.7 L1035.2,383.2 L1036.4,384.2 L1037.8,385.4 L1039.2,382.6 L1040.5,380.8 L1041.9,380.2 L1043.3,381.9 L1044.8,383.6 L1046.2,382.4 L1047.6,385.4 L1049.1,384.2 L1050.2,385.1 L1051.4,384.2 L1052.5,388.3 L1053.7,387.6" stroke="#A5A5A5" stroke-width="1.4" fill="none" stroke-linejoin="round"/>
<path d="M69.9,390.6 L71.2,395.5 L72.5,401.1 L73.8,405.2 L75.0,402.7 L76.2,402.4 L77.5,401.7 L78.7,398.4 L80.2,398.8 L81.6,400.6 L83.0,396.1 L84.5,397.4 L85.7,399.1 L86.9,399.3 L88.0,400.7 L89.2,403.3 L90.4,405.2 L91.6,406.8 L92.8,408.4 L94.0,409.7 L95.2,410.1 L96.4,412.7 L97.7,409.1 L98.9,403.7 L100.1,405.2 L101.1,411.4 L102.1,416.9 L103.4,413.6 L104.7,411.5 L106.0,410.1 L107.5,413.8 L108.9,412.7 L110.3,411.2 L111.8,416.0 L113.0,415.8 L114.2,414.0 L115.5,411.8 L116.7,413.0 L118.1,412.0 L119.4,413.1 L120.8,414.8 L122.1,414.7 L123.5,416.0 L124.7,416.7 L125.9,420.3 L127.0,416.4 L128.2,416.9 L129.4,418.9 L130.8,419.8 L132.1,423.5 L133.5,421.8 L134.8,426.8 L136.2,425.7 L137.6,422.3 L138.9,421.6 L140.3,422.1 L141.6,419.6 L143.0,419.9 L144.2,417.9 L145.4,418.7 L146.7,418.2 L147.9,416.0 L149.4,423.5 L150.9,430.6 L152.3,429.9 L153.8,432.4 L155.2,430.5 L156.7,429.6 L157.9,427.8 L159.1,428.9 L160.2,424.0 L161.4,424.4 L162.6,422.8 L164.1,427.3 L165.5,429.6 L166.7,428.1 L167.9,425.7 L169.2,425.8 L170.4,423.8 L171.6,424.8 L172.8,426.7 L174.0,427.9 L175.2,431.6 L176.7,430.4 L178.2,424.7 L179.6,425.2 L181.1,429.6 L182.6,429.8 L184.0,430.6 L185.2,428.8 L186.4,429.0 L187.5,427.0 L188.7,425.4 L189.9,423.8 L191.2,420.5 L192.5,421.9 L193.8,420.8 L195.2,418.9 L196.7,414.0 L197.9,416.5 L199.1,419.1 L200.4,421.6 L201.6,420.8 L202.9,422.2 L204.2,425.5 L205.5,422.8 L206.8,420.4 L208.1,422.7 L209.4,419.0 L210.7,424.9 L212.0,423.8 L213.3,423.8 L214.6,426.2 L215.9,422.2 L217.2,418.9 L218.5,424.0 L219.8,419.0 L221.1,420.8 L222.4,418.3 L223.7,419.9 L225.0,420.9 L226.3,418.7 L227.6,419.5 L228.9,418.9 L230.1,416.1 L231.3,422.6 L232.4,419.9 L233.6,420.6 L234.8,420.8 L236.1,419.5 L237.4,416.6 L238.7,414.0 L240.0,415.8 L241.3,415.4 L242.6,418.2 L243.9,420.6 L245.2,423.1 L246.5,422.8 L247.9,421.1 L249.4,420.0 L250.9,418.9 L252.3,416.9 L253.5,417.5 L254.7,416.5 L255.8,415.3 L257.0,414.5 L258.2,415.0 L259.5,417.9 L260.7,417.5 L262.0,418.0 L263.2,419.2 L264.4,426.3 L265.6,423.1 L266.8,422.8 L268.0,422.5 L269.2,419.5 L270.3,415.8 L271.5,417.7 L272.7,414.0 L274.1,414.8 L275.6,416.0 L277.1,418.7 L278.5,417.9 L279.9,418.1 L281.3,415.2 L282.6,413.3 L284.0,415.2 L285.4,410.1 L286.7,409.8 L288.0,405.8 L289.3,407.5 L290.6,405.2 L291.9,403.7 L293.2,402.3 L294.6,408.4 L296.1,412.1 L297.4,413.5 L298.7,417.4 L300.0,415.3 L301.3,416.4 L302.6,418.9 L303.9,417.9 L305.2,415.8 L306.4,417.4 L307.7,414.5 L308.9,415.5 L310.2,410.9 L311.4,411.9 L312.7,410.1 L314.1,409.1 L315.6,412.8 L317.1,415.3 L318.5,417.0 L319.7,417.2 L320.9,419.2 L322.0,418.3 L323.2,412.3 L324.4,414.0 L325.7,412.9 L327.0,416.5 L328.3,415.2 L329.6,412.3 L330.9,415.7 L332.2,415.0 L333.6,414.3 L335.1,416.0 L336.6,416.5 L338.0,419.9 L339.3,418.5 L340.7,421.8 L342.0,417.0 L343.4,415.4 L344.9,412.4 L346.4,414.7 L347.8,408.2 L349.0,409.1 L350.2,411.3 L351.5,412.9 L352.7,415.0 L354.1,416.3 L355.4,415.6 L356.8,419.2 L358.1,416.8 L359.5,417.9 L360.7,417.3 L361.9,415.2 L363.0,411.8 L364.2,410.0 L365.4,410.1 L366.6,412.2 L367.8,410.6 L369.0,416.7 L370.2,418.9 L371.4,419.0 L372.6,419.1 L373.7,418.8 L374.9,419.5 L376.1,418.9 L377.6,411.5 L379.0,405.2 L380.2,407.5 L381.4,404.9 L382.7,410.4 L383.9,410.1 L385.1,407.4 L386.4,408.5 L387.6,405.6 L388.8,405.2 L390.1,408.7 L391.4,412.3 L392.7,417.9 L394.0,418.7 L395.3,413.1 L396.6,411.5 L397.9,412.4 L399.2,411.0 L400.5,409.1 L401.8,409.2 L403.1,407.5 L404.4,408.0 L405.7,410.6 L407.0,407.4 L408.3,410.1 L409.6,410.3 L410.9,409.3 L412.2,409.1 L413.6,409.2 L415.1,416.7 L416.6,415.9 L418.0,417.9 L419.3,416.5 L420.6,413.7 L421.9,410.9 L423.3,410.3 L424.6,409.3 L425.9,407.2 L427.2,406.3 L428.5,408.4 L429.8,410.6 L431.1,409.9 L432.4,409.5 L433.7,410.1 L435.0,410.1 L436.3,408.1 L437.6,406.3 L438.9,401.6 L440.2,398.1 L441.5,399.4 L442.9,402.2 L444.4,402.4 L445.9,403.1 L447.3,405.2 L448.5,407.2 L449.8,406.9 L451.0,407.8 L452.2,410.1 L453.4,410.7 L454.6,402.6 L455.9,404.2 L457.1,400.4 L458.4,404.9 L459.6,409.0 L460.9,408.8 L462.2,405.6 L463.5,402.5 L464.8,398.0 L466.2,397.1 L467.5,399.3 L468.9,396.2 L470.2,399.4 L471.6,401.0 L473.0,399.0 L474.3,396.9 L475.7,394.3 L477.0,395.1 L478.4,391.2 L479.6,389.5 L480.8,393.4 L481.9,393.5 L483.1,395.2 L484.3,396.1 L485.5,396.9 L486.7,400.8 L487.9,396.5 L489.1,399.0 L490.5,403.0 L491.9,404.9 L493.2,404.1 L494.6,405.0 L496.0,407.8 L497.3,403.4 L498.6,401.8 L499.9,401.0 L501.2,405.4 L502.5,399.3 L503.8,404.7 L505.1,403.7 L506.4,409.0 L507.7,406.8 L509.1,406.6 L510.6,403.1 L512.0,403.8 L513.5,403.9 L514.8,403.2 L516.1,402.1 L517.4,399.4 L518.7,399.5 L520.0,398.2 L521.3,398.0 L522.6,403.1 L523.9,406.9 L525.2,410.7 L526.4,408.7 L527.6,405.0 L528.7,405.0 L529.9,400.4 L531.1,399.0 L532.3,398.2 L533.5,399.5 L534.6,400.3 L535.8,400.9 L537.0,402.0 L538.2,395.3 L539.4,397.4 L540.6,392.8 L541.8,388.3 L543.1,394.4 L544.4,395.4 L545.7,400.0 L546.9,398.6 L548.2,395.0 L549.4,392.0 L550.6,389.3 L551.9,389.1 L553.2,381.8 L554.5,379.5 L555.8,382.7 L557.1,381.1 L558.4,386.3 L559.8,387.9 L561.1,387.2 L562.5,386.4 L563.8,387.7 L565.2,389.3 L566.7,391.1 L568.2,400.0 L569.4,397.0 L570.6,397.8 L571.8,391.9 L573.0,395.1 L574.2,402.1 L575.5,407.0 L576.7,409.2 L577.9,415.6 L579.2,410.2 L580.5,407.4 L581.8,406.8 L583.1,404.0 L584.4,404.2 L585.7,408.5 L587.0,402.3 L588.3,404.8 L589.6,402.9 L590.9,407.0 L592.2,405.2 L593.5,408.8 L594.7,409.1 L596.0,411.4 L597.2,409.9 L598.4,411.7 L599.8,417.7 L601.3,419.5 L602.6,422.8 L603.9,418.8 L605.2,417.2 L606.5,419.2 L607.8,418.5 L609.1,417.6 L610.4,415.8 L611.7,416.4 L613.0,416.2 L614.4,416.5 L615.7,417.0 L617.0,414.6 L618.3,416.1 L619.6,417.0 L620.9,421.5 L622.4,419.7 L623.8,426.6 L625.2,423.7 L626.7,425.4 L628.1,425.1 L629.4,430.3 L630.8,428.4 L632.1,430.7 L633.5,427.3 L634.7,425.4 L635.9,423.0 L637.0,421.7 L638.2,422.2 L639.4,419.5 L640.7,421.2 L641.9,422.1 L643.2,426.3 L644.4,425.7 L645.7,422.5 L646.9,426.1 L648.2,426.3 L649.5,426.9 L650.8,424.2 L652.0,429.0 L653.3,426.2 L654.6,426.8 L655.9,423.8 L657.3,422.7 L658.6,421.5 L660.0,424.5 L661.3,422.7 L662.7,422.8 L664.0,418.2 L665.3,415.5 L666.6,412.1 L668.0,411.3 L669.3,410.0 L670.7,408.2 L672.0,408.2 L673.4,406.2 L674.6,408.0 L675.8,401.8 L677.1,395.8 L678.3,393.5 L679.6,391.1 L680.9,381.0 L682.2,376.0 L683.7,373.9 L685.1,377.0 L686.5,381.9 L688.0,391.6 L689.3,388.8 L690.7,394.8 L692.0,393.5 L693.3,395.9 L694.6,399.5 L695.9,406.2 L697.2,403.0 L698.5,401.3 L699.8,399.4 L701.2,405.1 L702.7,415.0 L703.9,416.5 L705.2,419.9 L706.4,423.4 L707.6,424.8 L708.9,424.8 L710.2,428.9 L711.5,429.6 L712.7,430.0 L713.9,430.5 L715.1,428.7 L716.3,429.6 L717.5,425.7 L718.8,427.3 L720.0,424.7 L721.2,421.8 L722.4,422.4 L723.6,424.0 L724.7,428.2 L725.9,432.3 L727.1,430.6 L728.5,431.6 L729.8,435.7 L731.2,432.3 L732.5,432.8 L733.9,432.6 L735.2,433.6 L736.5,434.7 L737.8,430.5 L739.1,433.4 L740.4,435.5 L741.7,433.5 L743.0,431.3 L744.3,434.9 L745.6,436.3 L746.9,438.4 L748.2,438.7 L749.5,436.5 L750.7,435.1 L751.9,437.3 L753.0,430.5 L754.2,428.6 L755.4,429.6 L756.8,432.0 L758.2,431.0 L759.6,428.1 L760.9,432.0 L762.3,431.8 L763.7,431.7 L765.1,430.6 L766.4,429.7 L767.7,428.1 L769.0,427.2 L770.3,429.6 L771.6,429.5 L772.9,429.6 L774.1,430.4 L775.3,432.1 L776.6,436.3 L777.8,436.5 L779.2,433.6 L780.5,433.3 L781.9,436.9 L783.2,431.5 L784.6,431.6 L785.8,429.0 L787.0,430.5 L788.3,424.1 L789.5,425.7 L790.8,430.8 L792.1,428.1 L793.4,432.6 L794.7,431.0 L796.0,430.1 L797.3,430.5 L798.6,430.7 L799.9,433.3 L801.2,431.6 L802.4,432.2 L803.7,435.4 L804.9,435.1 L806.1,434.5 L807.3,433.1 L808.5,436.1 L809.6,435.8 L810.8,436.9 L812.0,438.4 L813.3,437.6 L814.6,437.1 L815.9,436.2 L817.2,430.9 L818.5,433.3 L819.8,432.6 L821.2,431.6 L822.5,435.4 L823.9,431.6 L825.2,431.7 L826.6,431.6 L828.0,434.0 L829.5,436.5 L830.7,436.3 L831.9,431.4 L833.0,431.6 L834.2,430.0 L835.4,428.7 L836.7,429.6 L838.0,430.2 L839.3,430.7 L840.6,432.7 L841.9,431.3 L843.2,434.5 L844.4,434.6 L845.6,429.1 L846.8,423.3 L848.0,423.8 L849.2,425.3 L850.5,429.4 L851.7,429.4 L853.0,431.4 L854.2,433.7 L855.6,428.6 L857.0,433.8 L858.3,430.4 L859.7,425.8 L861.1,428.0 L862.5,427.4 L863.9,430.9 L865.3,429.3 L866.7,426.3 L868.1,429.1 L869.5,427.4 L870.9,428.1 L872.2,430.6 L873.6,426.8 L875.0,425.7 L876.4,429.5 L877.8,430.2 L879.1,433.3 L880.5,434.0 L881.9,438.3 L883.4,433.5 L884.8,430.8 L886.2,429.6 L887.7,428.0 L889.0,429.9 L890.4,427.5 L891.7,429.4 L893.0,428.5 L894.4,427.2 L895.7,426.8 L897.1,424.8 L898.4,428.2 L899.8,425.3 L901.1,424.3 L902.4,425.3 L903.8,419.9 L904.9,423.9 L906.1,423.2 L907.2,424.9 L908.4,425.7 L909.9,424.9 L911.3,426.1 L912.8,418.8 L914.2,418.8 L915.4,417.4 L916.5,421.4 L917.6,424.0 L918.8,425.7 L919.9,423.2 L921.1,424.4 L922.2,422.4 L923.4,419.9 L924.8,421.7 L926.2,423.7 L927.5,428.7 L928.9,430.7 L930.3,429.1 L931.8,430.4 L933.2,425.0 L934.6,426.0 L936.1,422.2 L937.5,421.4 L938.9,421.4 L940.2,428.6 L941.6,428.3 L943.0,428.0 L944.1,428.6 L945.3,429.3 L946.5,429.1 L947.6,425.7 L949.0,427.0 L950.5,427.9 L952.0,429.3 L953.4,429.1 L954.7,430.2 L956.0,428.7 L957.2,425.7 L958.5,431.9 L959.8,425.9 L961.1,425.8 L962.3,427.5 L963.6,426.0 L964.9,425.7 L966.2,426.1 L967.5,428.8 L968.8,426.6 L970.1,422.9 L971.3,423.7 L972.6,422.6 L973.9,424.3 L975.2,420.1 L976.5,421.1 L977.9,420.6 L979.4,420.6 L980.8,425.4 L982.2,425.7 L983.7,423.8 L985.1,421.8 L986.5,419.4 L988.0,415.3 L989.4,411.9 L990.8,411.9 L992.1,409.3 L993.5,411.9 L994.9,408.4 L996.3,406.7 L997.7,399.5 L999.0,399.6 L1000.4,395.7 L1001.8,392.2 L1002.9,390.7 L1004.1,390.0 L1005.2,386.0 L1006.4,385.3 L1007.6,385.2 L1008.7,385.0 L1009.9,386.5 L1011.0,387.1 L1012.2,388.2 L1013.4,393.7 L1014.5,393.4 L1015.6,401.3 L1016.8,407.2 L1018.0,407.6 L1019.1,406.0 L1020.3,409.5 L1021.4,417.3 L1022.6,417.3 L1023.7,421.1 L1024.9,423.0 L1026.0,425.3 L1027.2,425.7 L1028.3,429.5 L1029.5,426.9 L1030.7,424.3 L1031.8,429.1 L1033.2,429.1 L1034.6,430.0 L1035.9,429.5 L1037.3,433.5 L1038.7,431.4 L1040.1,431.4 L1041.5,433.4 L1042.8,432.2 L1044.2,435.5 L1045.6,434.9 L1046.9,434.3 L1048.3,437.4 L1049.7,436.7 L1051.0,437.0 L1052.5,437.8 L1054.0,438.6 L1055.5,438.6" stroke="#FFC000" stroke-width="1.4" fill="none" stroke-linejoin="round"/>
</g>
<line x1="92.2" y1="31.5" x2="155.2" y2="31.5" stroke="#5B9BD5" stroke-width="2.4"/>
<line x1="337.1" y1="31.5" x2="398.3" y2="31.5" stroke="#ED7D31" stroke-width="2.4"/>
<line x1="596.3" y1="31.5" x2="659.1" y2="31.5" stroke="#A5A5A5" stroke-width="2.4"/>
<line x1="824.7" y1="31.5" x2="885.9" y2="31.5" stroke="#FFC000" stroke-width="2.4"/>
<g opacity="0.999">
<text x="159.8 183.8 190.8 201.9 216.9 238.1 252.6 264.2 278.3 295.1" y="42.2" font-family="Liberation Serif" font-weight="bold" style="font-kerning:none" stroke="#fff" stroke-width="0.6" font-size="31.5">Al-Su7-800</text>
<text x="405.1 428.3 435.9 447.1 462.6 482.8 498.1 513.1 524.3 540.4 555.7" y="42.2" font-family="Liberation Serif" font-weight="bold" style="font-kerning:none" stroke="#fff" stroke-width="0.6" font-size="31.5">Al-Su10-800</text>
<text x="664.3 688.3 695.4 706.4 721.4 742.8 753.3 768.4 783.1" y="42.2" font-family="Liberation Serif" font-weight="bold" style="font-kerning:none" stroke="#fff" stroke-width="0.6" font-size="31.5">Al-Su-800</text>
<text x="892.3 916.4 923.3 935.1 950.6 970.3 984.3 996.8 1011.5 1026.6" y="42.2" font-family="Liberation Serif" font-weight="bold" style="font-kerning:none" stroke="#fff" stroke-width="0.6" font-size="31.5">Al-Su2-800</text>
<text transform="translate(69.5,504.3) scale(1.1,1)" font-family="Liberation Serif" font-weight="bold" style="font-kerning:none" stroke="#fff" stroke-width="0.5" font-size="31" text-anchor="middle">5</text>
<text transform="translate(222.1,504.3) scale(1.1,1)" font-family="Liberation Serif" font-weight="bold" style="font-kerning:none" stroke="#fff" stroke-width="0.5" font-size="31" text-anchor="middle">15</text>
<text transform="translate(374.9,504.3) scale(1.1,1)" font-family="Liberation Serif" font-weight="bold" style="font-kerning:none" stroke="#fff" stroke-width="0.5" font-size="31" text-anchor="middle">25</text>
<text transform="translate(525.4,504.3) scale(1.1,1)" font-family="Liberation Serif" font-weight="bold" style="font-kerning:none" stroke="#fff" stroke-width="0.5" font-size="31" text-anchor="middle">35</text>
<text transform="translate(678.5,504.3) scale(1.1,1)" font-family="Liberation Serif" font-weight="bold" style="font-kerning:none" stroke="#fff" stroke-width="0.5" font-size="31" text-anchor="middle">45</text>
<text transform="translate(829.2,504.3) scale(1.1,1)" font-family="Liberation Serif" font-weight="bold" style="font-kerning:none" stroke="#fff" stroke-width="0.5" font-size="31" text-anchor="middle">55</text>
<text transform="translate(983.0,504.3) scale(1.1,1)" font-family="Liberation Serif" font-weight="bold" style="font-kerning:none" stroke="#fff" stroke-width="0.5" font-size="31" text-anchor="middle">65</text>
<text x="461.1" y="554" font-family="Liberation Serif" font-weight="bold" style="font-kerning:none" stroke="#fff" stroke-width="0.4" font-size="37">2</text>
<text x="480.9" y="554" font-family="Liberation Serif" font-weight="bold" style="font-kerning:none" stroke="#fff" stroke-width="0.4" font-size="37">O</text>
<rect x="484.7" y="539.8" width="21.2" height="2.6" fill="#000"/>
<text x="518.4" y="554" font-family="Liberation Serif" font-weight="bold" style="font-kerning:none" stroke="#fff" stroke-width="0.4" font-size="37">(</text>
<text x="540.8" y="554" font-family="Liberation Serif" font-weight="bold" style="font-kerning:none" stroke="#fff" stroke-width="0.4" font-size="37">d</text>
<text x="562.5" y="554" font-family="Liberation Serif" font-weight="bold" style="font-kerning:none" stroke="#fff" stroke-width="0.4" font-size="37">e</text>
<text x="579.7" y="554" font-family="Liberation Serif" font-weight="bold" style="font-kerning:none" stroke="#fff" stroke-width="0.4" font-size="37">g</text>
<text x="598.1" y="554" font-family="Liberation Serif" font-weight="bold" style="font-kerning:none" stroke="#fff" stroke-width="0.4" font-size="37">r</text>
<text x="614.3" y="554" font-family="Liberation Serif" font-weight="bold" style="font-kerning:none" stroke="#fff" stroke-width="0.4" font-size="37">e</text>
<text x="633.8" y="554" font-family="Liberation Serif" font-weight="bold" style="font-kerning:none" stroke="#fff" stroke-width="0.4" font-size="37">e</text>
<text x="650.3" y="554" font-family="Liberation Serif" font-weight="bold" style="font-kerning:none" stroke="#fff" stroke-width="0.4" font-size="37">)</text>
<text transform="translate(30,277.5) rotate(-90)" font-family="Liberation Serif" font-weight="bold" style="font-kerning:none" stroke="#fff" stroke-width="0.3" font-size="36" text-anchor="middle" textLength="218" lengthAdjust="spacing">Intensity, a.u.</text>
<text x="312.2" y="254.7" font-size="31" text-anchor="middle" textLength="70" lengthAdjust="spacing" font-family="Liberation Serif" font-weight="bold" style="font-kerning:none" stroke="#fff" stroke-width="0.6">(111)</text>
<text x="462.35" y="239.9" font-size="31" text-anchor="middle" textLength="68.3" lengthAdjust="spacing" font-family="Liberation Serif" font-weight="bold" style="font-kerning:none" stroke="#fff" stroke-width="0.6">(220)</text>
<text x="550.1" y="223.8" font-size="31" text-anchor="middle" textLength="69" lengthAdjust="spacing" font-family="Liberation Serif" font-weight="bold" style="font-kerning:none" stroke="#fff" stroke-width="0.6">(311)</text>
<text x="679.9" y="202.5" font-size="31" text-anchor="middle" textLength="69" lengthAdjust="spacing" font-family="Liberation Serif" font-weight="bold" style="font-kerning:none" stroke="#fff" stroke-width="0.6">(400)</text>
<text x="1000.45" y="171.5" font-size="31" text-anchor="middle" textLength="69.5" lengthAdjust="spacing" font-family="Liberation Serif" font-weight="bold" style="font-kerning:none" stroke="#fff" stroke-width="0.6">(440)</text>
</g>
</svg>
</body></html>
